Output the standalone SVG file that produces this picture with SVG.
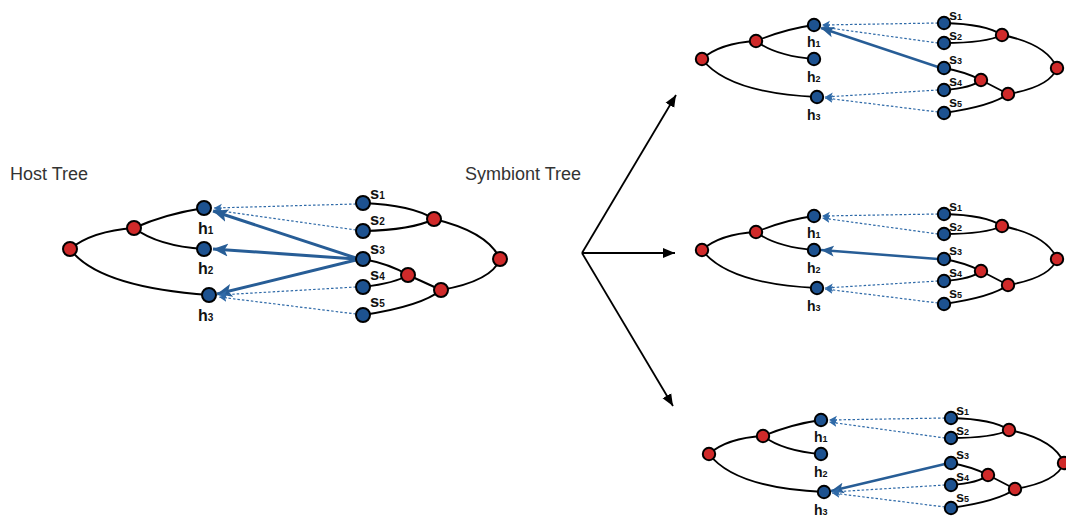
<svg xmlns="http://www.w3.org/2000/svg" width="1066" height="518" viewBox="0 0 1066 518">
<defs>
<style>
.e{fill:none;stroke:#000;stroke-width:2}
.es{fill:none;stroke:#000;stroke-width:1.8}
.b{fill:#1d5290;stroke:#000;stroke-width:2}
.r{fill:#d02a2a;stroke:#000;stroke-width:2}
.d{fill:none;stroke:#2f6aa8;stroke-width:1.2;stroke-dasharray:2.5 2}
.t{fill:none;stroke:#275d96;stroke-width:3}
.ts{fill:none;stroke:#275d96;stroke-width:2.5}
.k{fill:none;stroke:#000;stroke-width:1.8}
.title{font-family:"Liberation Sans",Arial,sans-serif;font-size:18px;fill:#333}
.hl{font-family:"Liberation Sans",Arial,sans-serif;font-weight:bold;font-size:16px;fill:#111}
.sl{font-family:"Liberation Sans",Arial,sans-serif;font-weight:bold;font-size:16.5px;fill:#111}
.hs{font-family:"Liberation Sans",Arial,sans-serif;font-weight:bold;font-size:14px;fill:#111}
.ss{font-family:"Liberation Sans",Arial,sans-serif;font-weight:bold;font-size:14.5px;fill:#111}
</style>
<marker id="ab" markerUnits="userSpaceOnUse" markerWidth="18" markerHeight="16" refX="15" refY="8" orient="auto"><path d="M0,1.5 L15,8 L0,14.5 L3.5,8 Z" fill="#275d96"/></marker>
<marker id="abs" markerUnits="userSpaceOnUse" markerWidth="16" markerHeight="14" refX="13" refY="7" orient="auto"><path d="M0,1.5 L13,7 L0,12.5 L3,7 Z" fill="#275d96"/></marker>
<marker id="ad" markerUnits="userSpaceOnUse" markerWidth="10" markerHeight="10" refX="8" refY="5" orient="auto"><path d="M0,1 L8,5 L0,9 L2,5 Z" fill="#2f6aa8"/></marker>
<marker id="ak" markerUnits="userSpaceOnUse" markerWidth="14" markerHeight="12" refX="12" refY="6" orient="auto"><path d="M0,1 L12,6 L0,11 Z" fill="#000"/></marker>
</defs>
<rect width="1066" height="518" fill="#fff"/>

<text class="title" x="10" y="180">Host Tree</text>
<text class="title" x="465" y="180">Symbiont Tree</text>

<!-- tree edges -->
<g id="tree-edges">
  <g id="left-edges">
    <path class="e" d="M70,249 Q92,231 134,228"/>
    <path class="e" d="M134,228 Q165,214 204,208"/>
    <path class="e" d="M134,228 Q158,246 204,249"/>
    <path class="e" d="M70,249 Q98,287 209,295"/>
    <path class="e" d="M363,203 Q412,205 434,219"/>
    <path class="e" d="M363,231 Q412,230 434,219"/>
    <path class="e" d="M434,219 Q488,232 500,259"/>
    <path class="e" d="M363,259 Q390,264 408,275"/>
    <path class="e" d="M363,287 Q396,283 408,275"/>
    <path class="e" d="M408,275 L441,290"/>
    <path class="e" d="M363,315 Q422,306 441,290"/>
    <path class="e" d="M441,290 Q492,281 500,259"/>
  </g>
  <g id="copy1-edges">
    <path class="es" d="M702,59 Q720,43 756,41"/>
    <path class="es" d="M756,41 Q785,29 814,25"/>
    <path class="es" d="M756,41 Q776,56 814,59"/>
    <path class="es" d="M702,59 Q728,93 817,97"/>
    <path class="es" d="M944,23 Q986,24 1002,35"/>
    <path class="es" d="M944,43 Q986,43 1002,35"/>
    <path class="es" d="M1002,35 Q1047,44 1057,68"/>
    <path class="es" d="M944,68 Q966,72 981,80"/>
    <path class="es" d="M944,90 Q972,88 981,80"/>
    <path class="es" d="M981,80 L1008,94"/>
    <path class="es" d="M944,113 Q992,106 1008,94"/>
    <path class="es" d="M1008,94 Q1050,87 1057,68"/>
  </g>
  <g id="copy2-edges" transform="translate(0,191)">
    <path class="es" d="M702,59 Q720,43 756,41"/>
    <path class="es" d="M756,41 Q785,29 814,25"/>
    <path class="es" d="M756,41 Q776,56 814,59"/>
    <path class="es" d="M702,59 Q728,93 817,97"/>
    <path class="es" d="M944,23 Q986,24 1002,35"/>
    <path class="es" d="M944,43 Q986,43 1002,35"/>
    <path class="es" d="M1002,35 Q1047,44 1057,68"/>
    <path class="es" d="M944,68 Q966,72 981,80"/>
    <path class="es" d="M944,90 Q972,88 981,80"/>
    <path class="es" d="M981,80 L1008,94"/>
    <path class="es" d="M944,113 Q992,106 1008,94"/>
    <path class="es" d="M1008,94 Q1050,87 1057,68"/>
  </g>
  <g id="copy3-edges" transform="translate(7,395)">
    <path class="es" d="M702,59 Q720,43 756,41"/>
    <path class="es" d="M756,41 Q785,29 814,25"/>
    <path class="es" d="M756,41 Q776,56 814,59"/>
    <path class="es" d="M702,59 Q728,93 817,97"/>
    <path class="es" d="M944,23 Q986,24 1002,35"/>
    <path class="es" d="M944,43 Q986,43 1002,35"/>
    <path class="es" d="M1002,35 Q1047,44 1057,68"/>
    <path class="es" d="M944,68 Q966,72 981,80"/>
    <path class="es" d="M944,90 Q972,88 981,80"/>
    <path class="es" d="M981,80 L1008,94"/>
    <path class="es" d="M944,113 Q992,106 1008,94"/>
    <path class="es" d="M1008,94 Q1050,87 1057,68"/>
  </g>
</g>

<!-- connectors -->
<g id="connectors">
  <g id="left-connectors">
    <line class="d" x1="356" y1="204" x2="214" y2="208" marker-end="url(#ad)"/>
    <line class="d" x1="356" y1="230" x2="214" y2="210" marker-end="url(#ad)"/>
    <line class="t" x1="356" y1="258" x2="213" y2="211" marker-end="url(#ab)"/>
    <line class="t" x1="356" y1="259" x2="213" y2="249" marker-end="url(#ab)"/>
    <line class="t" x1="356" y1="260" x2="217" y2="294" marker-end="url(#ab)"/>
    <line class="d" x1="356" y1="287" x2="219" y2="295" marker-end="url(#ad)"/>
    <line class="d" x1="356" y1="314" x2="219" y2="297" marker-end="url(#ad)"/>
  </g>
  <g id="copy1-connectors">
    <line class="d" x1="938" y1="23" x2="822" y2="25" marker-end="url(#ad)"/>
    <line class="d" x1="938" y1="43" x2="822" y2="27" marker-end="url(#ad)"/>
    <line class="ts" x1="938" y1="67" x2="821" y2="28" marker-end="url(#abs)"/>
    <line class="d" x1="938" y1="90" x2="825" y2="97" marker-end="url(#ad)"/>
    <line class="d" x1="938" y1="112" x2="825" y2="98" marker-end="url(#ad)"/>
  </g>
  <g id="copy2-connectors" transform="translate(0,191)">
    <line class="d" x1="938" y1="23" x2="822" y2="25" marker-end="url(#ad)"/>
    <line class="d" x1="938" y1="43" x2="822" y2="27" marker-end="url(#ad)"/>
    <line class="ts" x1="938" y1="68" x2="821" y2="59" marker-end="url(#abs)"/>
    <line class="d" x1="938" y1="90" x2="825" y2="97" marker-end="url(#ad)"/>
    <line class="d" x1="938" y1="112" x2="825" y2="98" marker-end="url(#ad)"/>
  </g>
  <g id="copy3-connectors" transform="translate(7,395)">
    <line class="d" x1="938" y1="23" x2="822" y2="25" marker-end="url(#ad)"/>
    <line class="d" x1="938" y1="43" x2="822" y2="27" marker-end="url(#ad)"/>
    <line class="ts" x1="938" y1="69" x2="824" y2="96" marker-end="url(#abs)"/>
    <line class="d" x1="938" y1="90" x2="825" y2="97" marker-end="url(#ad)"/>
    <line class="d" x1="938" y1="112" x2="825" y2="98" marker-end="url(#ad)"/>
  </g>
  <g id="fan-arrows">
    <line class="k" x1="582" y1="253" x2="676" y2="95" marker-end="url(#ak)"/>
    <line class="k" x1="582" y1="253" x2="675" y2="253" marker-end="url(#ak)"/>
    <line class="k" x1="582" y1="253" x2="673" y2="406" marker-end="url(#ak)"/>
  </g>
</g>

<!-- left nodes -->
<g id="left-tree">
  <g id="L-root"><circle class="r" cx="70" cy="249" r="7"/></g>
  <g id="L-in"><circle class="r" cx="134" cy="228" r="7"/></g>
  <g id="L-h1"><circle class="b" cx="204" cy="208" r="7"/><text class="hl" x="198" y="234">h<tspan font-size="10">1</tspan></text></g>
  <g id="L-h2"><circle class="b" cx="204" cy="249" r="7"/><text class="hl" x="198" y="274">h<tspan font-size="10">2</tspan></text></g>
  <g id="L-h3"><circle class="b" cx="209" cy="295" r="7"/><text class="hl" x="198" y="321">h<tspan font-size="10">3</tspan></text></g>
  <g id="L-s1"><circle class="b" cx="363" cy="203" r="7"/><text class="sl" x="370" y="199">s<tspan font-size="10">1</tspan></text></g>
  <g id="L-s2"><circle class="b" cx="363" cy="231" r="7"/><text class="sl" x="370" y="225">s<tspan font-size="10">2</tspan></text></g>
  <g id="L-s3"><circle class="b" cx="363" cy="259" r="7"/><text class="sl" x="370" y="254">s<tspan font-size="10">3</tspan></text></g>
  <g id="L-s4"><circle class="b" cx="363" cy="287" r="7"/><text class="sl" x="370" y="280">s<tspan font-size="10">4</tspan></text></g>
  <g id="L-s5"><circle class="b" cx="363" cy="315" r="7"/><text class="sl" x="370" y="307">s<tspan font-size="10">5</tspan></text></g>
  <g id="L-s12"><circle class="r" cx="434" cy="219" r="7"/></g>
  <g id="L-s34"><circle class="r" cx="408" cy="275" r="7"/></g>
  <g id="L-s345"><circle class="r" cx="441" cy="290" r="7"/></g>
  <g id="L-sroot"><circle class="r" cx="500" cy="259" r="7"/></g>
</g>

<!-- copy 1 nodes -->
<g id="copy1">
  <g id="A-root"><circle class="r" cx="702" cy="59" r="6.2"/></g>
  <g id="A-in"><circle class="r" cx="756" cy="41" r="6.2"/></g>
  <g id="A-h1"><circle class="b" cx="814" cy="25" r="6.2"/><text class="hs" x="807" y="47">h<tspan font-size="9">1</tspan></text></g>
  <g id="A-h2"><circle class="b" cx="814" cy="59" r="6.2"/><text class="hs" x="807" y="82">h<tspan font-size="9">2</tspan></text></g>
  <g id="A-h3"><circle class="b" cx="817" cy="97" r="6.2"/><text class="hs" x="807" y="120">h<tspan font-size="9">3</tspan></text></g>
  <g id="A-s1"><circle class="b" cx="944" cy="23" r="6.2"/><text class="ss" x="949" y="20">s<tspan font-size="9">1</tspan></text></g>
  <g id="A-s2"><circle class="b" cx="944" cy="43" r="6.2"/><text class="ss" x="949" y="40">s<tspan font-size="9">2</tspan></text></g>
  <g id="A-s3"><circle class="b" cx="944" cy="68" r="6.2"/><text class="ss" x="949" y="64">s<tspan font-size="9">3</tspan></text></g>
  <g id="A-s4"><circle class="b" cx="944" cy="90" r="6.2"/><text class="ss" x="949" y="86">s<tspan font-size="9">4</tspan></text></g>
  <g id="A-s5"><circle class="b" cx="944" cy="113" r="6.2"/><text class="ss" x="949" y="107">s<tspan font-size="9">5</tspan></text></g>
  <g id="A-s12"><circle class="r" cx="1002" cy="35" r="6.2"/></g>
  <g id="A-s34"><circle class="r" cx="981" cy="80" r="6.2"/></g>
  <g id="A-s345"><circle class="r" cx="1008" cy="94" r="6.2"/></g>
  <g id="A-sroot"><circle class="r" cx="1057" cy="68" r="6.2"/></g>
</g>

<!-- copy 2 nodes -->
<g id="copy2" transform="translate(0,191)">
  <g id="B-root"><circle class="r" cx="702" cy="59" r="6.2"/></g>
  <g id="B-in"><circle class="r" cx="756" cy="41" r="6.2"/></g>
  <g id="B-h1"><circle class="b" cx="814" cy="25" r="6.2"/><text class="hs" x="807" y="47">h<tspan font-size="9">1</tspan></text></g>
  <g id="B-h2"><circle class="b" cx="814" cy="59" r="6.2"/><text class="hs" x="807" y="82">h<tspan font-size="9">2</tspan></text></g>
  <g id="B-h3"><circle class="b" cx="817" cy="97" r="6.2"/><text class="hs" x="807" y="120">h<tspan font-size="9">3</tspan></text></g>
  <g id="B-s1"><circle class="b" cx="944" cy="23" r="6.2"/><text class="ss" x="949" y="20">s<tspan font-size="9">1</tspan></text></g>
  <g id="B-s2"><circle class="b" cx="944" cy="43" r="6.2"/><text class="ss" x="949" y="40">s<tspan font-size="9">2</tspan></text></g>
  <g id="B-s3"><circle class="b" cx="944" cy="68" r="6.2"/><text class="ss" x="949" y="64">s<tspan font-size="9">3</tspan></text></g>
  <g id="B-s4"><circle class="b" cx="944" cy="90" r="6.2"/><text class="ss" x="949" y="86">s<tspan font-size="9">4</tspan></text></g>
  <g id="B-s5"><circle class="b" cx="944" cy="113" r="6.2"/><text class="ss" x="949" y="107">s<tspan font-size="9">5</tspan></text></g>
  <g id="B-s12"><circle class="r" cx="1002" cy="35" r="6.2"/></g>
  <g id="B-s34"><circle class="r" cx="981" cy="80" r="6.2"/></g>
  <g id="B-s345"><circle class="r" cx="1008" cy="94" r="6.2"/></g>
  <g id="B-sroot"><circle class="r" cx="1057" cy="68" r="6.2"/></g>
</g>

<!-- copy 3 nodes -->
<g id="copy3" transform="translate(7,395)">
  <g id="C-root"><circle class="r" cx="702" cy="59" r="6.2"/></g>
  <g id="C-in"><circle class="r" cx="756" cy="41" r="6.2"/></g>
  <g id="C-h1"><circle class="b" cx="814" cy="25" r="6.2"/><text class="hs" x="807" y="47">h<tspan font-size="9">1</tspan></text></g>
  <g id="C-h2"><circle class="b" cx="814" cy="59" r="6.2"/><text class="hs" x="807" y="82">h<tspan font-size="9">2</tspan></text></g>
  <g id="C-h3"><circle class="b" cx="817" cy="97" r="6.2"/><text class="hs" x="807" y="120">h<tspan font-size="9">3</tspan></text></g>
  <g id="C-s1"><circle class="b" cx="944" cy="23" r="6.2"/><text class="ss" x="949" y="20">s<tspan font-size="9">1</tspan></text></g>
  <g id="C-s2"><circle class="b" cx="944" cy="43" r="6.2"/><text class="ss" x="949" y="40">s<tspan font-size="9">2</tspan></text></g>
  <g id="C-s3"><circle class="b" cx="944" cy="68" r="6.2"/><text class="ss" x="949" y="64">s<tspan font-size="9">3</tspan></text></g>
  <g id="C-s4"><circle class="b" cx="944" cy="90" r="6.2"/><text class="ss" x="949" y="86">s<tspan font-size="9">4</tspan></text></g>
  <g id="C-s5"><circle class="b" cx="944" cy="113" r="6.2"/><text class="ss" x="949" y="107">s<tspan font-size="9">5</tspan></text></g>
  <g id="C-s12"><circle class="r" cx="1002" cy="35" r="6.2"/></g>
  <g id="C-s34"><circle class="r" cx="981" cy="80" r="6.2"/></g>
  <g id="C-s345"><circle class="r" cx="1008" cy="94" r="6.2"/></g>
  <g id="C-sroot"><circle class="r" cx="1057" cy="68" r="6.2"/></g>
</g>
</svg>
